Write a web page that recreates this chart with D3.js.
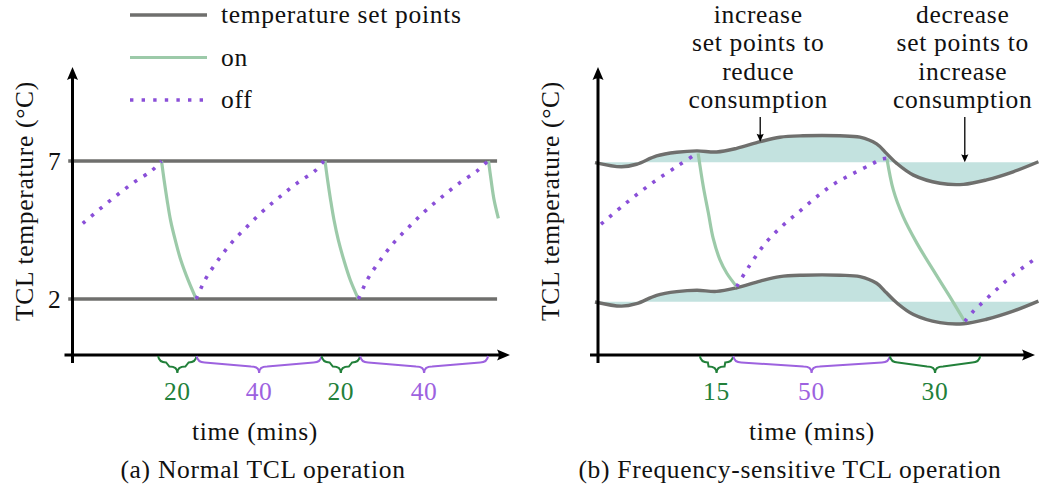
<!DOCTYPE html>
<html>
<head>
<meta charset="utf-8">
<script src="https://cdn.jsdelivr.net/npm/d3@7"></script>
<style>
  body { margin: 0; background: #fff; }
  svg { display: block; }
  .lbl { font-family: "Liberation Serif", "Times New Roman", serif; font-size: 25.5px; letter-spacing: 0.7px; fill: #111; }
</style>
</head>
<body>
<svg id="chart" width="1041" height="488"></svg>
<script>
// ---------- data ----------
// Set points in °C
const setPointLow = 2;
const setPointHigh = 7;
const yTickValues = [2, 7];

// (a) Normal operation. Time is in schematic units (0-100 along the axis), temperature in °C.
const normalOff = [
  [[2.4, 4.74], [6.3, 5.25], [10.2, 5.74], [14.2, 6.21], [18.5, 6.65], [20.8, 7.0]],
  [[28.9, 2.0], [30.1, 2.42], [31.4, 2.81], [34.3, 3.47], [37.4, 4.08], [40.9, 4.64], [44.6, 5.20], [48.5, 5.71], [52.4, 6.19], [56.7, 6.65], [58.7, 7.0]],
  [[66.8, 2.0], [68.0, 2.42], [69.3, 2.81], [72.2, 3.47], [75.3, 4.08], [78.8, 4.64], [82.5, 5.20], [86.4, 5.71], [90.3, 6.19], [94.6, 6.65], [97.0, 7.0]]
];
const normalOn = [
  [[20.8, 7.0], [21.4, 6.31], [22.1, 5.59], [22.9, 4.86], [24.0, 4.14], [25.3, 3.41], [27.0, 2.69], [28.9, 2.0]],
  [[59.0, 7.0], [59.6, 6.31], [60.3, 5.59], [61.1, 4.86], [62.1, 4.14], [63.4, 3.41], [64.9, 2.69], [66.8, 2.0]],
  [[97.2, 7.0], [97.8, 6.31], [98.5, 5.59], [99.5, 4.92]]
];
const normalBraces = [[20.0, 29.0], [29.0, 58.2], [58.2, 67.2], [67.2, 97.1]];
const normalBraceLabels = ["20", "40", "20", "40"];
const normalBraceStates = ["on", "off", "on", "off"];

// (b) Frequency-sensitive operation: set-point shift (°C) applied to both set points
const setPointShift = [
  [-0.7, -0.01], [5.5, -0.16], [9.0, -0.07], [13.7, 0.23], [18.4, 0.36], [23.1, 0.41],
  [27.7, 0.37], [32.4, 0.50], [37.9, 0.74], [42.5, 0.90], [47.9, 0.95], [56.5, 0.95],
  [61.2, 0.90], [65.1, 0.66], [67.4, 0.32], [69.8, -0.04], [73.7, -0.46], [79.9, -0.75],
  [85.4, -0.79], [90.8, -0.63], [97.0, -0.34], [102.9, 0.02]
];
const sensitiveOff = [
  [[0.7, 4.78], [6.5, 5.53], [12.6, 6.25], [18.9, 6.90], [23.1, 7.32]],
  [[32.4, 2.54], [35.0, 3.20], [39.4, 4.15], [43.3, 4.75], [47.0, 5.23], [50.9, 5.74], [55.0, 6.21], [59.4, 6.58], [64.0, 6.94], [66.3, 7.12], [67.5, 7.14]],
  [[85.7, 1.29], [87.5, 1.62], [89.3, 1.89], [93.0, 2.42], [97.0, 2.96], [102.9, 3.62]]
];
const sensitiveOn = [
  [[23.4, 7.32], [24.6, 6.13], [25.8, 5.17], [26.9, 4.28], [28.5, 3.50], [30.1, 3.02], [32.4, 2.54]],
  [[67.5, 7.14], [69.0, 6.01], [71.3, 5.05], [74.5, 4.10], [78.3, 3.14], [82.2, 2.18], [85.7, 1.29]]
];
const sensitiveBraces = [[23.8, 31.6], [31.6, 68.2], [68.2, 89.3]];
const sensitiveBraceLabels = ["15", "50", "30"];
const sensitiveBraceStates = ["on", "off", "on"];

const noteIncrease = ["increase", "set points to", "reduce", "consumption"];
const noteDecrease = ["decrease", "set points to", "increase", "consumption"];
const noteTimes = [37.9, 85.7];

const legendItems = ["temperature set points", "on", "off"];

// ---------- styles ----------
const C = {
  setPoint: "#6f6f6d",
  on: "#9ccaa9",
  off: "#8a4fd8",
  fill: "#c3e2df",
  braceOn: "#22803a",
  braceOff: "#9d62df",
  axis: "#000"
};

const svg = d3.select("#chart");

// ---------- helpers ----------
function arrowHead(g, x, y, angle, len, half) {
  // concave latex-style arrow head pointing along `angle` (degrees)
  g.append("path")
    .attr("d", `M0,0 L${-len},${-half} Q${-len * 0.72},0 ${-len},${half} Z`)
    .attr("transform", `translate(${x},${y}) rotate(${angle})`)
    .attr("fill", C.axis);
}

function bracePath(x0, x1, y, amp) {
  const xm = (x0 + x1) / 2;
  const r = Math.min(8, (x1 - x0) / 4);
  const h1 = amp * 0.38, h2 = amp * 0.62;
  return `M${x0},${y} Q${x0 + 1},${y + h1} ${x0 + r},${y + h1}` +
         ` L${xm - r},${y + h2} Q${xm},${y + h2} ${xm},${y + amp}` +
         ` Q${xm},${y + h2} ${xm + r},${y + h2}` +
         ` L${x1 - r},${y + h1} Q${x1 - 1},${y + h1} ${x1},${y}`;
}

function drawAxes(g, x0, xEnd, yAxisTop, axisY) {
  g.append("line")
    .attr("x1", x0 - 8).attr("x2", xEnd - 6)
    .attr("y1", axisY).attr("y2", axisY)
    .attr("stroke", C.axis).attr("stroke-width", 3);
  arrowHead(g, xEnd, axisY, 0, 13, 5.5);
  g.append("line")
    .attr("x1", x0).attr("x2", x0)
    .attr("y1", axisY + 8).attr("y2", yAxisTop + 6)
    .attr("stroke", C.axis).attr("stroke-width", 3);
  arrowHead(g, x0, yAxisTop, -90, 13, 5.5);
}

function drawBraces(g, x, spans, labels, states, axisY) {
  spans.forEach((s, i) => {
    const col = states[i] === "on" ? C.braceOn : C.braceOff;
    const x0 = x(s[0]), x1 = x(s[1]);
    g.append("path")
      .attr("d", bracePath(x0, x1, axisY + 1, 17))
      .attr("fill", "none").attr("stroke", col).attr("stroke-width", 2);
    g.append("text")
      .attr("class", "lbl")
      .attr("x", (x0 + x1) / 2).attr("y", 400)
      .attr("text-anchor", "middle")
      .style("fill", col)
      .text(labels[i]);
  });
}

function yLabel(g, x, y) {
  g.append("text").attr("class", "lbl")
    .attr("transform", `translate(${x},${y}) rotate(-90)`)
    .attr("text-anchor", "middle")
    .text("TCL temperature (°C)");
}

const lineGen = (x, y) => d3.line()
  .x(d => x(d[0])).y(d => y(d[1]))
  .curve(d3.curveCatmullRom.alpha(0.5));

function drawOn(g, segs, x, y) {
  g.selectAll(null).data(segs).join("path")
    .attr("d", lineGen(x, y))
    .attr("fill", "none").attr("stroke", C.on).attr("stroke-width", 3.2);
}
function drawOff(g, segs, x, y) {
  g.selectAll(null).data(segs).join("path")
    .attr("d", lineGen(x, y))
    .attr("fill", "none").attr("stroke", C.off).attr("stroke-width", 3.6)
    .attr("stroke-dasharray", "3.4 7.6");
}

const axisY = 355;
const axisTop = 67;

// ---------- panel (a) ----------
{
  const x = d3.scaleLinear().domain([0, 100]).range([72.5, 500.5]);
  const y = d3.scaleLinear().domain([setPointLow, setPointHigh]).range([299, 161]);
  const g = svg.append("g");

  // set-point lines
  g.selectAll(null).data([setPointLow, setPointHigh]).join("line")
    .attr("x1", x(-1)).attr("x2", x(99.2))
    .attr("y1", d => y(d)).attr("y2", d => y(d))
    .attr("stroke", C.setPoint).attr("stroke-width", 3.4);

  drawOn(g, normalOn, x, y);
  drawOff(g, normalOff, x, y);

  // y ticks
  const ax = g.append("g").attr("transform", `translate(${x(0)},0)`)
    .call(d3.axisLeft(y).tickValues(yTickValues).tickSize(0).tickPadding(11).tickFormat(d3.format("d")));
  ax.select(".domain").remove();
  ax.attr("font-family", null).attr("font-size", null);
  ax.selectAll("text").attr("class", "lbl").attr("fill", null).attr("dy", "0.32em");

  drawAxes(g, x(0), 510, axisTop, axisY);
  drawBraces(g, x, normalBraces, normalBraceLabels, normalBraceStates, axisY);

  yLabel(g, 33, 201);
  g.append("text").attr("class", "lbl").attr("x", 255).attr("y", 440)
    .attr("text-anchor", "middle").text("time (mins)");
  g.append("text").attr("class", "lbl").attr("x", 263).attr("y", 478)
    .attr("text-anchor", "middle").text("(a) Normal TCL operation");

  // legend
  const lg = g.append("g");
  const ly = [15, 57.5, 100];
  legendItems.forEach((name, i) => {
    const l = lg.append("line").attr("x1", 130).attr("x2", 207)
      .attr("y1", ly[i]).attr("y2", ly[i]);
    if (i === 0) l.attr("stroke", C.setPoint).attr("stroke-width", 3.4);
    if (i === 1) l.attr("stroke", C.on).attr("stroke-width", 3.2);
    if (i === 2) l.attr("stroke", C.off).attr("stroke-width", 3.6).attr("stroke-dasharray", "3.4 8.2");
    lg.append("text").attr("class", "lbl").attr("x", 221).attr("y", ly[i] + 8).text(name);
  });
}

// ---------- panel (b) ----------
{
  const x = d3.scaleLinear().domain([0, 100]).range([598, 1026]);
  const y = d3.scaleLinear().domain([setPointLow, setPointHigh]).range([301.7, 162.3]);
  const g = svg.append("g");

  [setPointHigh, setPointLow].forEach(base => {
    const area = d3.area()
      .x(d => x(d[0])).y0(y(base)).y1(d => y(base + d[1]))
      .curve(d3.curveCatmullRom.alpha(0.5));
    g.append("path").datum(setPointShift)
      .attr("d", area).attr("fill", C.fill);
  });
  [setPointHigh, setPointLow].forEach(base => {
    g.append("path").datum(setPointShift.map(d => [d[0], base + d[1]]))
      .attr("d", lineGen(x, y))
      .attr("fill", "none").attr("stroke", C.setPoint).attr("stroke-width", 3.4);
  });

  drawOn(g, sensitiveOn, x, y);
  drawOff(g, sensitiveOff, x, y);

  drawAxes(g, x(0), 1035, axisTop, axisY);
  drawBraces(g, x, sensitiveBraces, sensitiveBraceLabels, sensitiveBraceStates, axisY);

  yLabel(g, 559, 201);
  g.append("text").attr("class", "lbl").attr("x", 812).attr("y", 440)
    .attr("text-anchor", "middle").text("time (mins)");
  g.append("text").attr("class", "lbl").attr("x", 790).attr("y", 478)
    .attr("text-anchor", "middle").text("(b) Frequency-sensitive TCL operation");

  // annotations with arrows
  const shiftAt = t => {
    const i = d3.bisector(d => d[0]).left(setPointShift, t);
    const a = setPointShift[Math.max(0, i - 1)], b = setPointShift[Math.min(setPointShift.length - 1, i)];
    return a[0] === b[0] ? a[1] : a[1] + (b[1] - a[1]) * (t - a[0]) / (b[0] - a[0]);
  };
  const notes = [noteIncrease, noteDecrease];
  const tipTemps = [setPointHigh + shiftAt(noteTimes[0]), setPointHigh];
  const tailY = [117, 117];
  notes.forEach((lines, k) => {
    const cx = x(noteTimes[k]);
    const t = g.append("text").attr("class", "lbl").attr("text-anchor", "middle");
    lines.forEach((s, j) => t.append("tspan").attr("x", cx - 2).attr("y", 23 + j * 28.3).text(s));
    const tipY = y(tipTemps[k]);
    g.append("line").attr("x1", cx).attr("x2", cx)
      .attr("y1", tailY[k]).attr("y2", tipY - 4)
      .attr("stroke", "#000").attr("stroke-width", 1.3);
    g.append("path")
      .attr("d", `M0,0 L-8,-3.6 Q-6,0 -8,3.6 Z`)
      .attr("transform", `translate(${cx},${tipY}) rotate(90)`)
      .attr("fill", "#000");
  });
}
</script>
</body>
</html>
